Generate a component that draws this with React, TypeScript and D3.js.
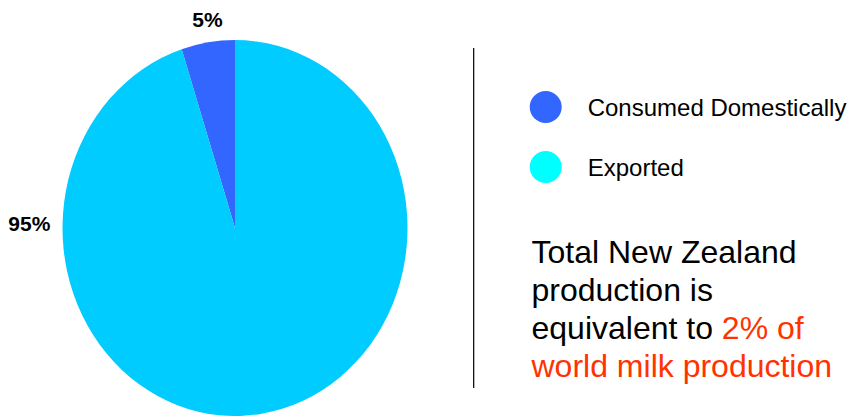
import React from "react";
import * as d3 from "d3";

const categories = ["Consumed Domestically", "Exported"];
const values = [5, 95];
const sliceLabels = ["5%", "95%"];
const sliceColors = ["#3366FF", "#00CCFF"];
const legendColors = ["#3366FF", "#00FFFF"];
const noteBlack = ["Total New Zealand", "production is", "equivalent to "];
const noteRed = ["2% of", "world milk production"];

const W = 850;
const H = 419;
const FONT = "'Liberation Sans', Arial, Helvetica, sans-serif";

export default function App() {
  const cx = 235;
  const cy = 228;
  const rx = 172.5;
  const ry = 188;
  const total = d3.sum(values);
  const start = -(values[0] / total) * 2 * Math.PI;
  const pie = d3
    .pie<number>()
    .sort(null)
    .value((d) => d)
    .startAngle(start)
    .endAngle(start + 2 * Math.PI);
  const arcs = pie(values);
  const arc = d3.arc<d3.PieArcDatum<number>>().innerRadius(0).outerRadius(rx);

  const labelPos = [
    { x: 207.5, y: 26.7, anchor: "middle" },
    { x: 8.3, y: 230.7, anchor: "start" },
  ];

  const legendY = d3.scalePoint<string>().domain(categories).range([107, 167]);

  return (
    <svg
      width={W}
      height={H}
      style={{ position: "absolute", left: 0, top: 0, background: "#fff" }}
      fontFamily={FONT}
    >
      <g transform={`translate(${cx},${cy}) scale(1,${ry / rx})`}>
        {arcs.map((a, i) => (
          <path key={i} d={arc(a) || ""} fill={sliceColors[i]} />
        ))}
      </g>
      {sliceLabels.map((t, i) => (
        <text
          key={t}
          x={labelPos[i].x}
          y={labelPos[i].y}
          textAnchor={labelPos[i].anchor as any}
          fontSize={21}
          fontWeight="bold"
          fill="#000"
        >
          {t}
        </text>
      ))}
      <line x1={473.7} x2={473.7} y1={48} y2={388} stroke="#000" strokeWidth={1.2} />
      {categories.map((c, i) => (
        <g key={c}>
          <circle cx={545.7} cy={legendY(c)} r={16} fill={legendColors[i]} />
          <text x={587.7} y={(legendY(c) || 0) + 8.5} fontSize={24} fill="#000">
            {c}
          </text>
        </g>
      ))}
      <g fontSize={32}>
        <text x={531.5} y={262.7} fill="#000">{noteBlack[0]}</text>
        <text x={531.5} y={300.9} fill="#000">{noteBlack[1]}</text>
        <text x={531.5} y={339.1} fill="#000">
          {noteBlack[2]}
          <tspan fill="#FF3300">{noteRed[0]}</tspan>
        </text>
        <text x={531.5} y={377.3} fill="#FF3300">{noteRed[1]}</text>
      </g>
    </svg>
  );
}
